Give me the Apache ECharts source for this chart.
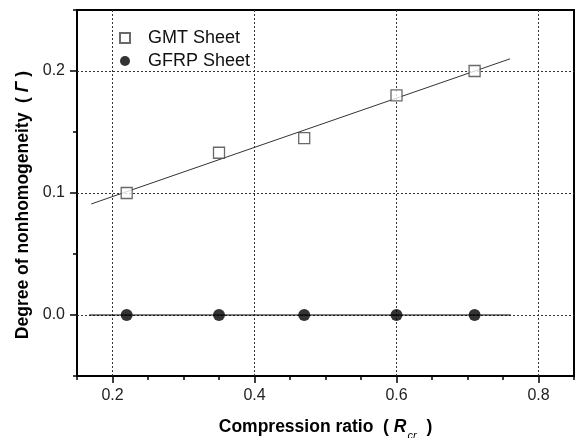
<!DOCTYPE html>
<html>
<head>
<meta charset="utf-8">
<script src="https://cdn.jsdelivr.net/npm/echarts@6/dist/echarts.min.js"></script>
<style>
html,body{margin:0;padding:0;background:#fff;}
#chart{width:576px;height:438px;}
</style>
</head>
<body>
<div id="chart"></div>
<script>
// data
var ratio = [0.22, 0.35, 0.47, 0.60, 0.71];
var gmtValues = [0.100, 0.133, 0.145, 0.180, 0.200];
var gfrpValues = [0, 0, 0, 0, 0];
// fitted lines (end points)
var gmtFitX = [0.17, 0.76];
var gmtFitY = [0.091, 0.210];
var gfrpFitX = [0.167, 0.761];
var gfrpFitY = [0, 0];
// labelled ticks
var xTicks = [0.2, 0.4, 0.6, 0.8];
var yTicks = [0.0, 0.1, 0.2];

function pairs(xs, ys){
	var out = [];
	for(var i=0;i<xs.length;i++) out.push([xs[i], ys[i]]);
	return out;
}
function isMajor(v, list){
	for(var i=0;i<list.length;i++){
		if(Math.abs(v-list[i])<1e-6) return true;
	}
	return false;
}

var FONT = '"Liberation Sans", Arial, sans-serif';
var gridLine = {color:'#333', width:1, type:[2,2]};

// overlay axis carrying only the longer major ticks
function majorTickAxis(min, max, ticks, pos){
	return {
		type:'value', min:min, max:max, position:pos,
		axisLine:{show:false, onZero:false},
		axisTick:{show:true, inside:false, length:7, customValues:ticks, lineStyle:{color:'#000', width:1.5}},
		axisLabel:{show:false},
		splitLine:{show:false}
	};
}

var chart = echarts.init(document.getElementById('chart'));
var option = {
	animation:false,
	backgroundColor:'#fff',
	grid:{left:77, right:2, top:10, bottom:62, outerBoundsMode:'none', containLabel:false,
		show:true, borderColor:'#000', borderWidth:2, backgroundColor:'transparent'},
	legend:{
		orient:'vertical', left:114, top:24,
		itemWidth:10, itemHeight:10, itemGap:5,
		textStyle:{fontFamily:FONT, fontSize:18, color:'#111', lineHeight:18, padding:[0,0,0,13]},
		data:['GMT Sheet','GFRP Sheet']
	},
	xAxis:[{
		type:'value', min:0.15, max:0.85, interval:0.05,
		axisLine:{show:true, onZero:false, lineStyle:{color:'#000', width:2}},
		axisTick:{show:true, inside:false, length:4, lineStyle:{color:'#000', width:1.5}},
		axisLabel:{
			margin:12, fontFamily:FONT, fontSize:16, color:'#222',
			formatter:function(v){ return isMajor(v, xTicks) ? v.toFixed(1) : ''; }
		},
		splitLine:{show:false},
		name:'{b|Compression ratio  ( }{i|R}{s|cr}{b| )}',
		nameLocation:'middle', nameGap:37,
		nameTextStyle:{
			rich:{
				b:{fontFamily:FONT, fontSize:17.5, fontWeight:'bold', color:'#000', lineHeight:28},
				i:{fontFamily:FONT, fontSize:17.5, fontWeight:'bold', fontStyle:'italic', color:'#000', lineHeight:28},
				s:{fontFamily:FONT, fontSize:11, fontStyle:'italic', color:'#000', lineHeight:10, verticalAlign:'bottom', padding:[0,5,0,1]}
			}
		}
	}, majorTickAxis(0.15, 0.85, xTicks, 'bottom')],
	yAxis:[{
		type:'value', min:-0.05, max:0.25, interval:0.05,
		axisLine:{show:true, onZero:false, lineStyle:{color:'#000', width:2}},
		axisTick:{show:true, inside:false, length:4, lineStyle:{color:'#000', width:1.5}},
		axisLabel:{
			margin:12, fontFamily:FONT, fontSize:16, color:'#222',
			formatter:function(v){ return isMajor(v, yTicks) ? v.toFixed(1) : ''; }
		},
		splitLine:{show:false},
		name:'{b|Degree of nonhomogeneity  ( }{i|Γ}{b| )}',
		nameLocation:'middle', nameGap:44, nameRotate:90,
		nameTextStyle:{
			padding:[0,24,0,0],
			rich:{
				b:{fontFamily:FONT, fontSize:17.5, fontWeight:'bold', color:'#000'},
				i:{fontFamily:FONT, fontSize:17.5, fontWeight:'bold', fontStyle:'italic', color:'#000'}
			}
		}
	}, majorTickAxis(-0.05, 0.25, yTicks, 'left')],
	series:[
		{
			name:'GMT Sheet', type:'scatter', symbol:'rect', symbolSize:11, z:5,
			itemStyle:{color:'#fff', borderColor:'#444', borderWidth:1.3},
			data:pairs(ratio, gmtValues),
			markLine:{
				silent:true, symbol:'none', label:{show:false}, z:1,
				lineStyle:gridLine,
				data:xTicks.map(function(v){return {xAxis:v};}).concat(yTicks.map(function(v){return {yAxis:v};}))
			}
		},
		{
			name:'GFRP Sheet', type:'scatter', symbol:'circle', symbolSize:12, z:5,
			itemStyle:{color:'#000'},
			data:pairs(ratio, gfrpValues)
		},
		{
			name:'GMT fit', type:'line', showSymbol:false, z:3, silent:true,
			lineStyle:{color:'#333', width:1},
			data:pairs(gmtFitX, gmtFitY)
		},
		{
			name:'GFRP fit', type:'line', showSymbol:false, z:3, silent:true,
			lineStyle:{color:'#000', width:1.2},
			data:pairs(gfrpFitX, gfrpFitY)
		}
	]
};
chart.setOption(option);
</script>
</body>
</html>
